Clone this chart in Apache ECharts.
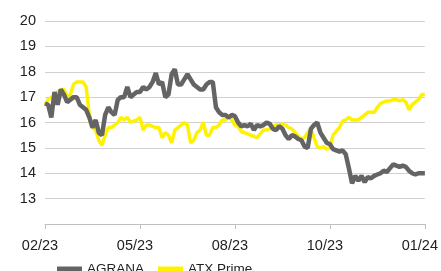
<!DOCTYPE html>
<html>
<head>
<meta charset="utf-8">
<script src="https://cdn.jsdelivr.net/npm/echarts@6/dist/echarts.min.js"></script>
<style>
html,body{margin:0;padding:0;background:#fff;}
#main{width:441px;height:271px;}
</style>
</head>
<body>
<div id="main"></div>
<script>
// 121 Punkte, Beschriftung alle 30
var tickLabels = ['02/23','05/23','08/23','10/23','01/24'];
var agrana = [16.75,16.7,16.2,17.2,16.7,17.3,17.1,16.8,16.9,17.0,
	17.0,16.7,16.6,16.5,16.2,15.8,16.1,15.6,15.5,16.3,
	16.6,16.4,16.3,16.9,17.0,17.0,17.4,17.0,17.1,17.2,
	17.2,17.4,17.3,17.4,17.6,17.95,17.5,17.6,17.0,17.1,
	17.9,18.1,17.5,17.5,17.7,17.9,17.7,17.5,17.4,17.3,
	17.3,17.5,17.6,17.6,16.6,16.4,16.3,16.3,16.2,16.3,
	16.25,16.0,15.85,15.9,15.85,15.95,15.7,15.9,15.85,15.9,
	16.0,15.95,15.75,15.7,15.85,15.75,15.5,15.35,15.5,15.45,
	15.35,15.3,15.05,15.0,15.75,15.9,16.0,15.6,15.4,15.2,
	15.15,14.95,14.9,14.85,14.9,14.75,14.2,13.6,13.9,13.7,
	13.9,13.65,13.85,13.8,13.9,13.95,14.0,14.1,14.05,14.2,
	14.35,14.3,14.25,14.3,14.25,14.1,14.0,13.95,14.0,14.0,
	14.0];
var atx = [16.7,16.9,17.0,17.0,17.2,17.3,17.3,17.0,17.1,17.5,
	17.6,17.6,17.6,17.4,16.3,15.8,15.7,15.3,15.1,15.5,
	15.8,15.8,15.9,16.0,16.2,16.1,16.2,16.0,16.05,16.1,
	16.2,15.7,15.9,15.9,15.85,15.8,15.8,15.4,15.6,15.5,
	15.2,15.7,15.8,15.9,16.0,15.9,15.2,15.3,15.6,15.7,
	16.0,15.5,15.5,15.8,15.8,15.9,16.1,16.1,16.2,16.1,
	15.9,15.85,15.65,15.6,15.55,15.5,15.45,15.4,15.55,15.7,
	15.7,15.75,15.85,15.9,15.9,15.95,15.9,15.8,15.75,15.6,
	15.45,15.35,15.4,15.6,15.75,15.4,15.05,15.0,15.05,14.95,
	15.0,15.5,15.65,15.8,16.05,16.1,16.2,16.1,16.1,16.1,
	16.2,16.3,16.4,16.4,16.4,16.6,16.75,16.8,16.85,16.85,
	16.9,16.9,16.85,16.9,16.8,16.5,16.7,16.8,16.9,17.1,
	17.1];

var cats = [];
for(var i=0;i<agrana.length;i++){
	cats.push(i%30==0 ? tickLabels[i/30] : '');
}

var myChart = echarts.init(document.getElementById('main'));
var option = {
	animation:false,
	backgroundColor:'#fff',
	textStyle:{fontFamily:'Liberation Sans'},
	grid:{
		left:45,
		right:14,
		top:21,
		bottom:47
	},
	legend:{
		left:52,
		top:257,
		icon:'rect',
		itemWidth:25,
		itemHeight:5,
		itemGap:14,
		textStyle:{fontSize:13.5,color:'#222'},
		data:['AGRANA','ATX Prime']
	},
	xAxis:[{
		type:'category',
		boundaryGap:false,
		data:cats,
		axisLine:{lineStyle:{color:'#bfbfbf',width:1}},
		axisTick:{interval:29,length:5,lineStyle:{color:'#bfbfbf'}},
		axisLabel:{interval:29,margin:14,fontSize:14.5,color:'#222',padding:[0,10,0,0]},
		splitLine:{show:false}
	}],
	yAxis:[{
		type:'value',
		min:12,
		max:20,
		interval:1,
		axisLine:{show:false},
		axisTick:{show:false},
		axisLabel:{
			fontSize:14.5,
			color:'#222',
			margin:9,
			formatter:function(v){return v==12 ? '' : v;}
		},
		splitLine:{lineStyle:{color:'#d0d0d0',width:1}}
	}],
	series:[{
		name:'AGRANA',
		type:'line',
		data:agrana,
		showSymbol:false,
		z:3,
		itemStyle:{color:'#646464'},
		lineStyle:{color:'#646464',width:4.5}
	},{
		name:'ATX Prime',
		type:'line',
		data:atx,
		showSymbol:false,
		z:2,
		itemStyle:{color:'#fff200'},
		lineStyle:{color:'#fff200',width:3.5}
	}]
};
myChart.setOption(option);
</script>
</body>
</html>
